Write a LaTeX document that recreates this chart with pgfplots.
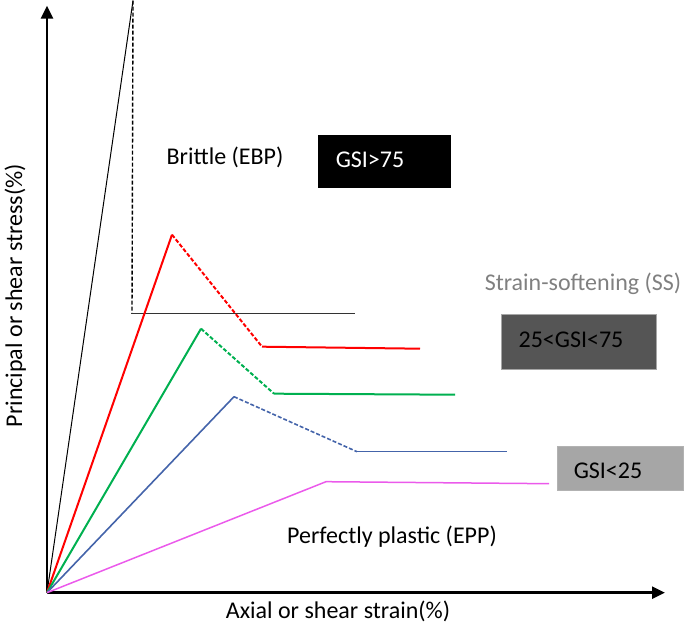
\documentclass[border=0pt]{standalone}
\usepackage{pgfplots}
\pgfplotsset{compat=1.18}
\usepackage{fontspec}
\setmainfont{Carlito}
\usetikzlibrary{arrows.meta}

\definecolor{cred}{RGB}{255,0,0}
\definecolor{cgreen}{RGB}{0,176,80}
\definecolor{cblue}{RGB}{68,100,170}
\definecolor{cmag}{RGB}{235,90,235}
\definecolor{cdark}{RGB}{85,85,85}
\definecolor{clight}{RGB}{166,166,166}
\definecolor{cgray}{RGB}{128,128,128}

\tikzset{
    ddash/.style={dash pattern=on 4pt off 2pt},
    lbl/.style={anchor=base, font=\fontsize{24}{28}\selectfont, inner sep=0pt},
}

\begin{document}
\begin{tikzpicture}
\begin{axis}[
    width=685pt, height=625pt,
    scale only axis,
    xmin=-47, xmax=638,
    ymin=-33, ymax=592,
    hide axis,
    clip=false,
    every axis plot/.append style={mark=none},
]
\path (axis cs:-47,-33) rectangle (axis cs:638,592);

% axes
\draw[line width=2.5pt, -{Triangle[length=13pt,width=12pt]}] (axis cs:0,0) -- (axis cs:618,0);
\draw[line width=2.5pt, -{Triangle[length=13pt,width=12pt]}] (axis cs:0,0) -- (axis cs:0,587);

% boxes
\fill[black] (axis cs:271,405) rectangle (axis cs:404,458);
\filldraw[fill=cdark, draw=gray!70] (axis cs:454,223) rectangle (axis cs:609,278);
\filldraw[fill=clight, draw=gray!60] (axis cs:510,102) rectangle (axis cs:636,146);

% brittle (GSI>75)
\addplot[black, line width=1pt] coordinates {(0,0) (86,592)};
\addplot[black, line width=1.4pt, ddash] coordinates {(86,592) (85,280)};
\addplot[black!80, line width=1.3pt] coordinates {(84,279) (308,279)};

% strain-softening
\addplot[cred, line width=2pt] coordinates {(0,0) (125,358)};
\addplot[cred, line width=2pt, ddash] coordinates {(125,358) (215,246)};
\addplot[cred, line width=2pt] coordinates {(215,246) (373,244)};

\addplot[cgreen, line width=2pt] coordinates {(0,0) (154,264)};
\addplot[cgreen, line width=2pt, ddash] coordinates {(154,264) (227,199)};
\addplot[cgreen, line width=2pt] coordinates {(227,199) (408,198)};

\addplot[cblue, line width=1.6pt] coordinates {(0,0) (187,196)};
\addplot[cblue, line width=1.6pt, ddash] coordinates {(187,196) (310,141)};
\addplot[cblue, line width=1.6pt] coordinates {(310,141) (460,141)};

% perfectly plastic
\addplot[cmag, line width=1.5pt] coordinates {(0,0) (279,111) (502,109)};

% texts
\node[lbl] at (axis cs:178,428) {Brittle (EBP)};
\node[lbl, white] at (axis cs:323,425) {GSI>75};
\node[lbl, cgray] at (axis cs:536,302) {Strain-softening (SS)};
\node[lbl] at (axis cs:524,245) {25<GSI<75};
\node[lbl] at (axis cs:561,114) {GSI<25};
\node[lbl] at (axis cs:345,49) {Perfectly plastic (EPP)};
\node[lbl] at (axis cs:291,-26) {Axial or shear strain(\%)};
\node[lbl, rotate=90] at (axis cs:-25,297) {Principal or shear stress(\%)};
\end{axis}
\end{tikzpicture}
\end{document}
